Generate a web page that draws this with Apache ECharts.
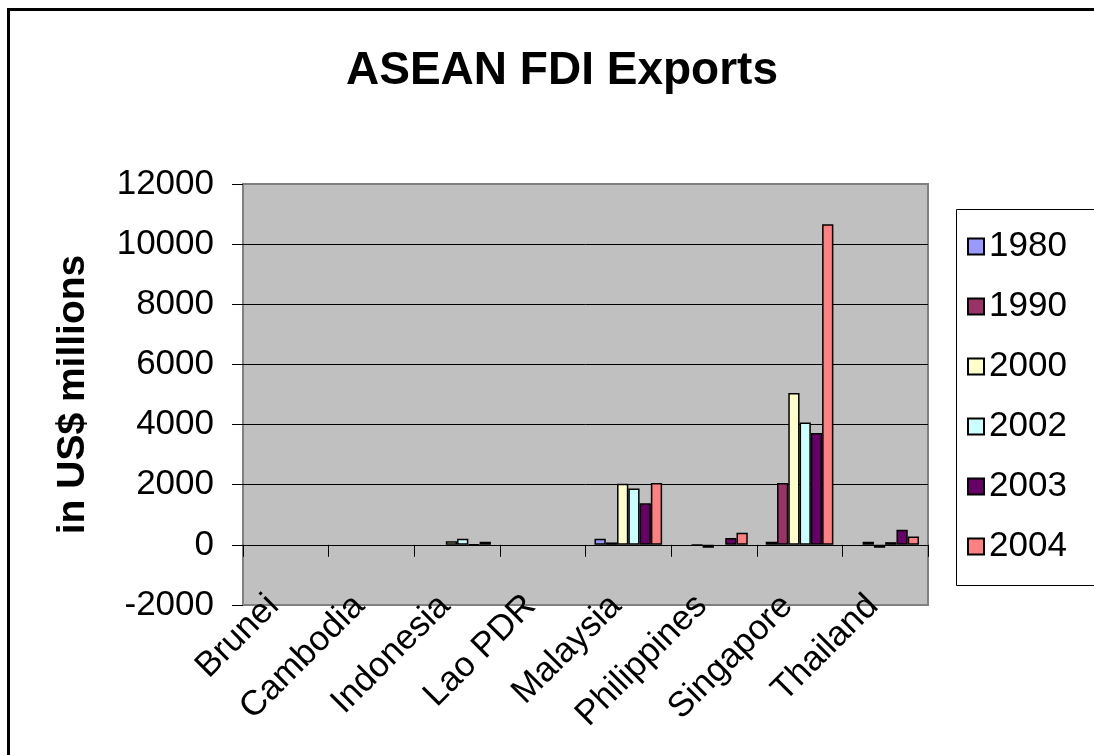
<!DOCTYPE html>
<html>
<head>
<meta charset="utf-8">
<title>ASEAN FDI Exports</title>
<script src="https://cdn.jsdelivr.net/npm/echarts@6/dist/echarts.min.js"></script>
<style>
  html, body { margin: 0; padding: 0; background: #fff; }
  #chart { width: 1094px; height: 755px; }
</style>
</head>
<body>
<div id="chart"></div>
<script>
// Countries along the category axis
const countries = ['Brunei', 'Cambodia', 'Indonesia', 'Lao PDR', 'Malaysia', 'Philippines', 'Singapore', 'Thailand'];

// Outward FDI by year, US$ millions (null = no figure)
const fdi1980 = [null, null, null, null, 200, null, 100, null];
const fdi1990 = [null, null, null, null, 80, -10, 2060, 100];
const fdi2000 = [null, null, 120, null, 2030, -100, 5050, -100];
const fdi2002 = [null, null, 200, null, 1870, null, 4070, 90];
const fdi2003 = [null, null, 15, null, 1380, 230, 3720, 500];
const fdi2004 = [null, null, 100, null, 2060, 400, 10660, 280];

const years = ['1980', '1990', '2000', '2002', '2003', '2004'];
const yearColors = ['#9999FF', '#993366', '#FFFFCC', '#CCFFFF', '#660066', '#FF8080'];
const yearValues = [fdi1980, fdi1990, fdi2000, fdi2002, fdi2003, fdi2004];

const FONT = "'Liberation Sans', Arial, sans-serif";

const chart = echarts.init(document.getElementById('chart'), null, { renderer: 'canvas' });

chart.setOption({
  animation: false,
  backgroundColor: '#ffffff',
  title: {
    text: 'ASEAN FDI Exports',
    left: 557,
    textAlign: 'center',
    top: 43,
    textStyle: { fontFamily: FONT, fontSize: 46, fontWeight: 'bold', color: '#000' }
  },
  graphic: [
    {
      // outer chart frame (left and top edges)
      type: 'polyline',
      z: -10,
      shape: { points: [[8.5, 760], [8.5, 9.5], [1100, 9.5]] },
      style: { fill: null, stroke: '#000', lineWidth: 3 }
    },
    {
      // legend frame
      type: 'polyline',
      z: -5,
      shape: { points: [[1100, 209.5], [956.5, 209.5], [956.5, 585.5], [1100, 585.5]] },
      style: { fill: null, stroke: '#000', lineWidth: 1 }
    }
  ],
  legend: {
    orient: 'vertical',
    left: 962,
    top: 224,
    itemWidth: 16,
    itemHeight: 16,
    itemGap: 25,
    icon: 'rect',
    data: years,
    textStyle: { fontFamily: FONT, fontSize: 35, color: '#000' }
  },
  grid: {
    show: true,
    left: 243,
    right: 166,
    top: 184,
    bottom: 150,
    backgroundColor: '#C0C0C0',
    borderColor: '#808080',
    borderWidth: 2
  },
  xAxis: [
    {
      type: 'category',
      data: countries,
      position: 'bottom',
      axisLine: { show: false, onZero: false },
      axisTick: { show: false },
      axisLabel: {
        interval: 0,
        rotate: 45,
        margin: 8,
        verticalAlign: 'bottom',
        fontFamily: FONT,
        fontSize: 35,
        color: '#000'
      }
    },
    {
      // zero line with category separators
      type: 'category',
      data: countries,
      position: 'bottom',
      axisLine: { show: true, onZero: true, lineStyle: { color: '#000', width: 1 } },
      axisTick: { show: true, length: 12, lineStyle: { color: '#000', width: 1 } },
      axisLabel: { show: false }
    }
  ],
  yAxis: {
    type: 'value',
    min: -2000,
    max: 12000,
    interval: 2000,
    name: 'in US$ millions',
    nameLocation: 'middle',
    nameGap: 150,
    nameTextStyle: { fontFamily: FONT, fontSize: 39, fontWeight: 'bold', color: '#000' },
    axisLine: { show: false },
    axisTick: { show: true, length: 11, lineStyle: { color: '#000', width: 1 } },
    axisLabel: {
      margin: 29,
      fontFamily: FONT,
      fontSize: 35,
      color: '#000',
      formatter: (v) => String(v)
    },
    splitLine: {
      show: true,
      showMinLine: false,
      showMaxLine: false,
      lineStyle: { color: '#000', width: 1 }
    }
  },
  series: years.map((y, i) => ({
    name: y,
    type: 'bar',
    xAxisIndex: 0,
    data: yearValues[i],
    barGap: '0%',
    barCategoryGap: '21%',
    itemStyle: { color: yearColors[i], borderColor: '#000', borderWidth: 1.5 }
  }))
});
</script>
</body>
</html>
